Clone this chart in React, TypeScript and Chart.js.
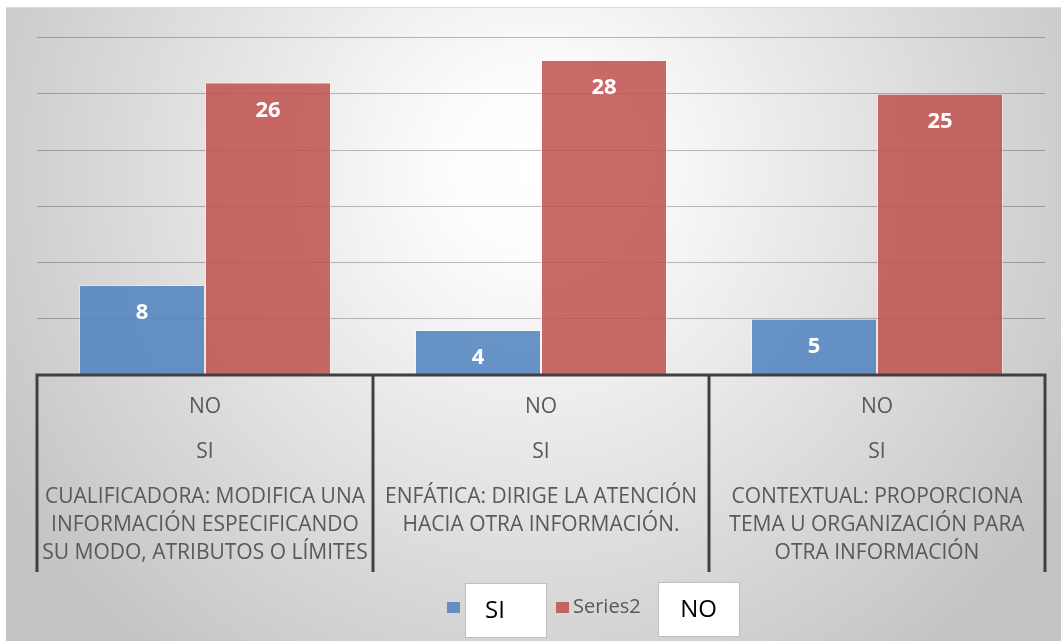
import React, { useEffect, useRef } from "react";
import { Chart, registerables } from "chart.js";

Chart.register(...registerables);

const categoryLines: string[][] = [
  ["CUALIFICADORA: MODIFICA UNA", "INFORMACIÓN ESPECIFICANDO", "SU MODO, ATRIBUTOS O LÍMITES"],
  ["ENFÁTICA: DIRIGE LA ATENCIÓN", "HACIA OTRA INFORMACIÓN."],
  ["CONTEXTUAL: PROPORCIONA", "TEMA U ORGANIZACIÓN PARA", "OTRA INFORMACIÓN"],
];
const level1Labels = ["NO", "NO", "NO"];
const level2Labels = ["SI", "SI", "SI"];
const siValues = [8, 4, 5];
const series2Values = [26, 28, 25];
const seriesNames = ["SI", "Series2"];
const extraLegendLabel = "NO";

const W = 1061;
const H = 641;
const FONT = "'Open Sans', 'Noto Sans', sans-serif";

const backgroundPlugin = {
  id: "bg",
  beforeDraw(chart: any) {
    const ctx = chart.ctx as CanvasRenderingContext2D;
    ctx.save();
    ctx.fillStyle = "#ffffff";
    ctx.fillRect(0, 0, W, H);
    const g = ctx.createRadialGradient(535, 170, 0, 535, 170, 620);
    g.addColorStop(0, "#ffffff");
    g.addColorStop(0.15, "#fcfcfc");
    g.addColorStop(1, "#c4c4c4");
    ctx.fillStyle = g;
    ctx.fillRect(6, 7, W - 6, H - 7);
    ctx.fillStyle = "#dadada";
    ctx.fillRect(6, 7, W - 6, 1);
    ctx.restore();
  },
};

const overlayPlugin = {
  id: "overlay",
  afterDatasetsDraw(chart: any) {
    const ctx = chart.ctx as CanvasRenderingContext2D;
    const area = chart.chartArea;
    ctx.save();
    // data labels
    ctx.fillStyle = "#ffffff";
    ctx.font = `bold 22px ${FONT}`;
    ctx.textAlign = "center";
    ctx.textBaseline = "middle";
    chart.data.datasets.forEach((ds: any, di: number) => {
      const meta = chart.getDatasetMeta(di);
      meta.data.forEach((el: any, i: number) => {
        ctx.fillText(String(ds.data[i]), el.x, el.y + 28);
      });
    });

    // axis table
    const n = categoryLines.length;
    const cw = (area.right - area.left) / n;
    const top = area.bottom;
    const bottom = 572;
    ctx.strokeStyle = "#404040";
    ctx.lineWidth = 3;
    ctx.beginPath();
    ctx.moveTo(area.left - 1.5, top);
    ctx.lineTo(area.right + 1.5, top);
    for (let i = 0; i <= n; i++) {
      const x = area.left + i * cw;
      ctx.moveTo(x, top);
      ctx.lineTo(x, bottom);
    }
    ctx.stroke();

    ctx.fillStyle = "#595959";
    ctx.font = `21px ${FONT}`;
    for (let i = 0; i < n; i++) {
      const cx = area.left + (i + 0.5) * cw;
      ctx.fillText(level1Labels[i], cx, 407);
      ctx.fillText(level2Labels[i], cx, 452);
      categoryLines[i].forEach((line, li) => {
        ctx.fillText(line, cx, 497 + li * 28);
      });
    }

    // legend
    const colors = [chart.data.datasets[0].backgroundColor, chart.data.datasets[1].backgroundColor];
    ctx.fillStyle = colors[0];
    ctx.fillRect(447, 602, 13, 11);
    ctx.fillStyle = "#ffffff";
    ctx.fillRect(465, 583, 81, 54);
    ctx.strokeStyle = "#bfbfbf";
    ctx.lineWidth = 1;
    ctx.strokeRect(465.5, 583.5, 81, 54);
    ctx.fillStyle = "#000000";
    ctx.font = `24px ${FONT}`;
    ctx.fillText(seriesNames[0], 495, 611);

    ctx.fillStyle = colors[1];
    ctx.fillRect(556, 602, 13, 11);
    ctx.fillStyle = "#595959";
    ctx.font = `20px ${FONT}`;
    ctx.textAlign = "left";
    ctx.fillText(seriesNames[1], 573, 607);

    ctx.fillStyle = "#ffffff";
    ctx.fillRect(658, 582, 81, 54);
    ctx.strokeStyle = "#bfbfbf";
    ctx.strokeRect(658.5, 582.5, 81, 54);
    ctx.fillStyle = "#000000";
    ctx.font = `24px ${FONT}`;
    ctx.textAlign = "center";
    ctx.fillText(extraLegendLabel, 698.5, 610);
    ctx.restore();
  },
};

export default function App() {
  const ref = useRef<HTMLCanvasElement | null>(null);
  useEffect(() => {
    if (!ref.current) return;
    const chart = new Chart(ref.current, {
      type: "bar",
      data: {
        labels: categoryLines.map((l) => l.join(" ")),
        datasets: [
          {
            label: seriesNames[0],
            data: siValues,
            backgroundColor: "rgba(79,129,189,0.85)",
            borderColor: "rgba(255,255,255,0.35)",
            borderWidth: 1,
            categoryPercentage: 0.75,
            barPercentage: 1,
          },
          {
            label: seriesNames[1],
            data: series2Values,
            backgroundColor: "rgba(192,80,77,0.85)",
            borderColor: "rgba(255,255,255,0.35)",
            borderWidth: 1,
            categoryPercentage: 0.75,
            barPercentage: 1,
          },
        ],
      },
      options: {
        responsive: false,
        animation: false,
        layout: { padding: { left: 37, right: 16, top: 37.5, bottom: H - 375 } },
        plugins: { legend: { display: false }, tooltip: { enabled: false } },
        scales: {
          x: { display: false },
          y: {
            min: 0,
            max: 30,
            ticks: { display: false, stepSize: 5 },
            border: { display: false },
            grid: { color: "rgba(0,0,0,0.25)", drawTicks: false, lineWidth: 1 },
            afterFit: (s: any) => {
              s.width = 0;
            },
          },
        },
      },
      plugins: [backgroundPlugin, overlayPlugin],
    });
    return () => chart.destroy();
  }, []);
  return (
    <div style={{ position: "fixed", left: 0, top: 0, width: W, height: H }}>
      <canvas ref={ref} width={W} height={H} style={{ display: "block", width: W, height: H }} />
    </div>
  );
}
